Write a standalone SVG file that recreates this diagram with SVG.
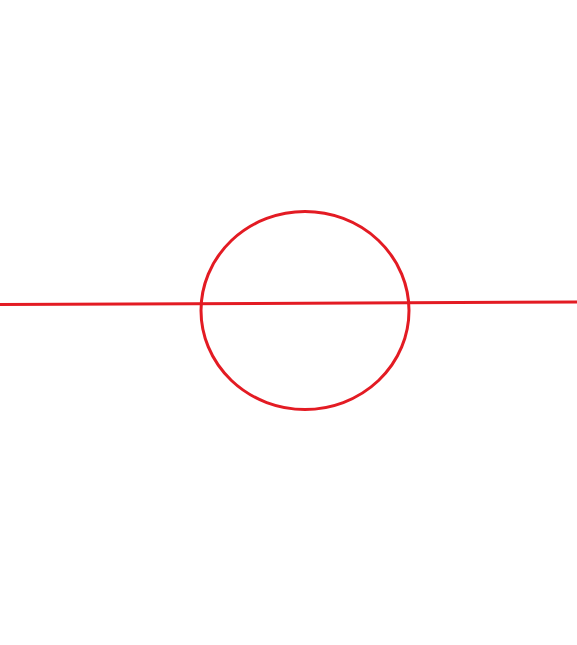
<svg xmlns="http://www.w3.org/2000/svg" width="577" height="645" viewBox="0 0 577 645">
<style>.s{fill:none;stroke:#e31b23;stroke-width:3}</style>
<rect width="577" height="645" fill="#fff"/>
<g id="connectors"><line class="s" x1="0" y1="304.5" x2="577" y2="302"/></g>
<g id="circle"><ellipse class="s" cx="305" cy="310.5" rx="104" ry="99"/></g>
</svg>
